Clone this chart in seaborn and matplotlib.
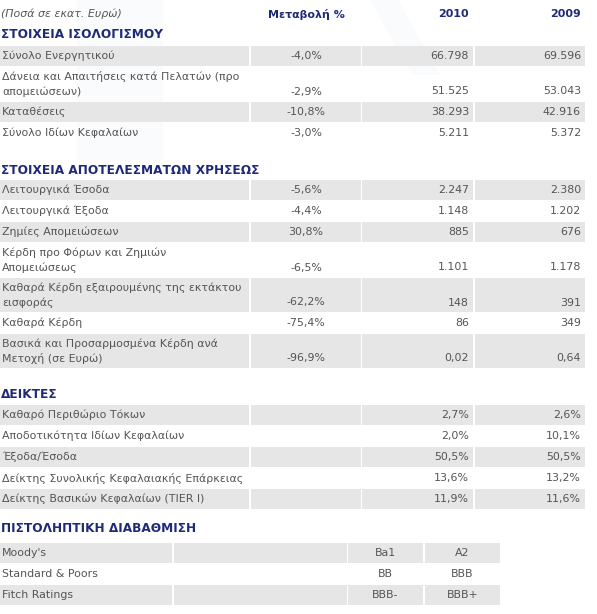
import matplotlib
matplotlib.use("Agg")
import matplotlib.pyplot as plt
from matplotlib.patches import Rectangle, Polygon
import seaborn as sns

# ---- data ----
unit_note = "(Ποσά σε εκατ. Ευρώ)"
col_headers = ["Μεταβολή %", "2010", "2009"]

balance_title = "ΣΤΟΙΧΕΙΑ ΙΣΟΛΟΓΙΣΜΟΥ"
balance_labels = ["Σύνολο Ενεργητικού",
                  "Δάνεια και Απαιτήσεις κατά Πελατών (προ\nαπομειώσεων)",
                  "Καταθέσεις",
                  "Σύνολο Ιδίων Κεφαλαίων"]
balance_change = [-4.0, -2.9, -10.8, -3.0]
balance_2010 = [66798, 51525, 38293, 5211]
balance_2009 = [69596, 53043, 42916, 5372]

results_title = "ΣΤΟΙΧΕΙΑ ΑΠΟΤΕΛΕΣΜΑΤΩΝ ΧΡΗΣΕΩΣ"
results_labels = ["Λειτουργικά Έσοδα",
                  "Λειτουργικά Έξοδα",
                  "Ζημίες Απομειώσεων",
                  "Κέρδη προ Φόρων και Ζημιών\nΑπομειώσεως",
                  "Καθαρά Κέρδη εξαιρουμένης της εκτάκτου\nεισφοράς",
                  "Καθαρά Κέρδη",
                  "Βασικά και Προσαρμοσμένα Κέρδη ανά\nΜετοχή (σε Ευρώ)"]
results_change = [-5.6, -4.4, 30.8, -6.5, -62.2, -75.4, -96.9]
results_2010 = [2247, 1148, 885, 1101, 148, 86, 0.02]
results_2009 = [2380, 1202, 676, 1178, 391, 349, 0.64]

ratios_title = "ΔΕΙΚΤΕΣ"
ratios_labels = ["Καθαρό Περιθώριο Τόκων",
                 "Αποδοτικότητα Ιδίων Κεφαλαίων",
                 "Έξοδα/Έσοδα",
                 "Δείκτης Συνολικής Κεφαλαιακής Επάρκειας",
                 "Δείκτης Βασικών Κεφαλαίων (TIER I)"]
ratios_2010 = [2.7, 2.0, 50.5, 13.6, 11.9]
ratios_2009 = [2.6, 10.1, 50.5, 13.2, 11.6]

rating_title = "ΠΙΣΤΟΛΗΠΤΙΚΗ ΔΙΑΒΑΘΜΙΣΗ"
agencies = ["Moody's", "Standard & Poors", "Fitch Ratings"]
rating_2010 = ["Ba1", "BB", "BBB-"]
rating_2009 = ["A2", "BBB", "BBB+"]

# ---- style ----
GREY = "#e6e6e6"
TXT = "#555555"
NAVY = "#1e2a78"
FS = 7.9

def pct(v):
    return f"{v:.1f}%".replace(".", ",")

def amount(v):
    if isinstance(v, float):
        return f"{v:.2f}".replace(".", ",")
    return f"{v:,}".replace(",", ".")

sns.set_theme(style="white")
plt.rcParams["font.family"] = ["DejaVu Sans"]

fig = plt.figure(figsize=(5.97, 6.14), dpi=100)
ax = fig.add_axes([0, 0, 1, 1])
ax.set_xlim(0, 597)
ax.set_ylim(614, 0)
ax.axis("off")

# very faint watermark behind the table
ax.add_patch(Rectangle((77, 0), 86, 160, fc="#fafbfc", ec="none", zorder=0))
ax.add_patch(Polygon([(370, 0), (398, 0), (440, 75), (412, 75)], fc="#fafbfc", ec="none", zorder=0))

main_cols = [(0, 249), (251, 361), (362, 473), (475, 585)]


def draw_rows(top, labels, cols, spans, aligns):
    y = top
    for i, lab in enumerate(labels):
        lines = lab.split("\n")
        h = 20 if len(lines) == 1 else 34
        if i % 2 == 0:
            for x0, x1 in spans:
                ax.add_patch(Rectangle((x0, y), x1 - x0, h, fc=GREY, ec="none", zorder=1))
        for j, ln in enumerate(lines):
            ax.text(spans[0][0] + 2, y + 10 + j * 14.5, ln, fontsize=FS, color=TXT,
                    va="center", ha="left", zorder=3)
        ty = y + 10 + (len(lines) - 1) * 14.5
        for (x0, x1), al, col in zip(spans[1:], aligns, cols):
            if col is None:
                continue
            x = (x0 + x1) / 2 if al == "center" else x1 - 4
            ax.text(x, ty, col[i], fontsize=FS, color=TXT, va="center", ha=al, zorder=3)
        y += h + 1


def heading(y, txt):
    ax.text(1, y, txt, fontsize=8.7, fontweight="bold",
            color=NAVY, va="center", ha="left", zorder=3)


# header
ax.text(1, 14, unit_note, fontsize=FS, style="italic", color=TXT, va="center")
ax.text(306, 14, col_headers[0], fontsize=FS, fontweight="bold", color=NAVY, va="center", ha="center")
ax.text(469, 14, col_headers[1], fontsize=FS, fontweight="bold", color=NAVY, va="center", ha="right")
ax.text(581, 14, col_headers[2], fontsize=FS, fontweight="bold", color=NAVY, va="center", ha="right")

heading(35, balance_title)
draw_rows(46, balance_labels,
          [[pct(v) for v in balance_change], [amount(v) for v in balance_2010],
           [amount(v) for v in balance_2009]],
          main_cols, ["center", "right", "right"])

heading(170, results_title)
draw_rows(180, results_labels,
          [[pct(v) for v in results_change], [amount(v) for v in results_2010],
           [amount(v) for v in results_2009]],
          main_cols, ["center", "right", "right"])

heading(395, ratios_title)
draw_rows(405, ratios_labels,
          [None, [pct(v) for v in ratios_2010], [pct(v) for v in ratios_2009]],
          main_cols, ["center", "right", "right"])

heading(528, rating_title)
draw_rows(543, agencies,
          [None, rating_2010, rating_2009],
          [(0, 172), (174, 347), (348, 423), (425, 500)], ["center", "center", "center"])

fig.savefig("out.png", dpi=100)
